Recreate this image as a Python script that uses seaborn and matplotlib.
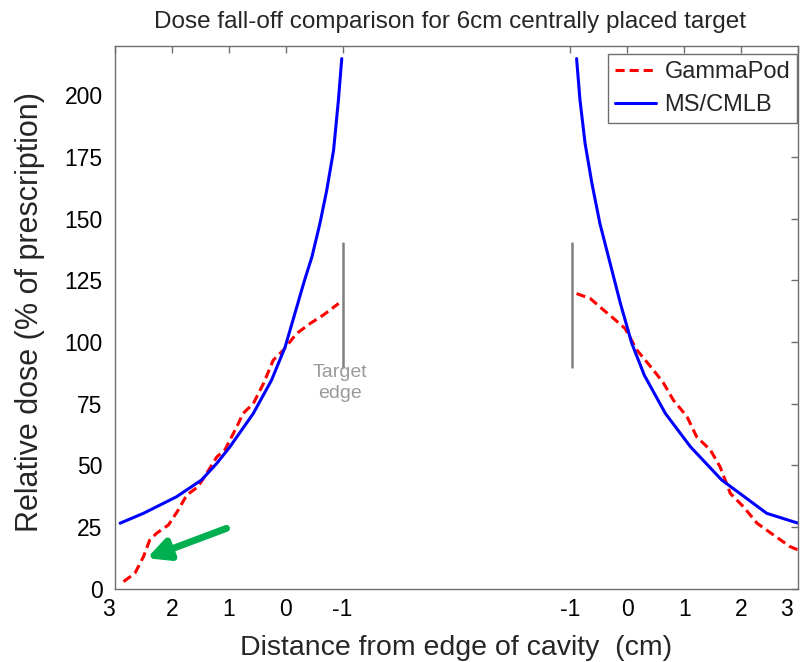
import numpy as np
import pandas as pd
import matplotlib
matplotlib.use("Agg")
import matplotlib.pyplot as plt
import matplotlib.transforms as mtransforms
import seaborn as sns

# values (x: position in cm, cavity centre at 0)
gp_left_x = [-5.85, -5.65, -5.5, -5.39, -5.27, -5.06, -4.89, -4.74, -4.54, -4.39, -4.21,
             -4.07, -3.86, -3.75, -3.57, -3.39, -3.22, -3.04, -2.81, -2.57, -2.34, -2.07]
gp_left_y = [2.8, 6.2, 12.9, 19.7, 22.4, 25.8, 31.8, 37.9, 41.3, 46.7, 53.4,
             56.2, 65.6, 71.0, 75.0, 83.2, 92.6, 96.7, 103.4, 107.5, 110.9, 115.6]
gp_right_x = [2.11, 2.35, 2.55, 2.76, 2.96, 3.17, 3.46, 3.64, 3.81, 4.05, 4.22,
              4.46, 4.63, 4.81, 5.04, 5.28, 5.57, 5.86, 6.07]
gp_right_y = [119.6, 117.6, 113.6, 109.5, 105.5, 96.7, 88.6, 83.2, 76.4, 69.7, 61.5,
              56.2, 49.4, 38.6, 33.2, 26.5, 21.7, 17.0, 15.0]

ms_left_x = [-5.91, -5.5, -4.92, -4.48, -4.21, -3.98, -3.57, -3.25, -3.01, -2.84,
             -2.67, -2.54, -2.40, -2.28, -2.16, -2.075, -2.016]
ms_left_y = [26.5, 30.5, 37.2, 44.0, 50.8, 57.5, 71.0, 84.5, 98.0, 111.5,
             125.0, 134.5, 148.0, 161.5, 177.7, 198.0, 214.9]
ms_right_x = [2.11, 2.17, 2.26, 2.38, 2.52, 2.70, 2.88, 3.08, 3.30, 3.67, 4.11,
              4.66, 5.45, 6.0]
ms_right_y = [214.9, 198.0, 180.4, 164.2, 148.0, 131.8, 115.6, 99.4, 86.5, 71.0, 57.5,
              44.0, 30.5, 26.5]

tick_pos = [-6, -5, -4, -3, -2, 2, 3, 4, 5, 6]
tick_labels = ["3", "2", "1", "0", "-1", "-1", "0", "1", "2", "3"]
edge_x = [-2.0, 2.03]
methods = ["GammaPod", "MS/CMLB"]


def segment(x, y, method, side):
    return pd.DataFrame({"x": x, "dose": y, "method": method, "side": side})


df = pd.concat([
    segment(gp_left_x, gp_left_y, "GammaPod", "L"),
    segment(gp_right_x, gp_right_y, "GammaPod", "R"),
    segment(ms_left_x, ms_left_y, "MS/CMLB", "L"),
    segment(ms_right_x, ms_right_y, "MS/CMLB", "R"),
], ignore_index=True)

sns.set_theme(style="white")
plt.rcParams["font.family"] = ["Liberation Sans", "DejaVu Sans"]
frame = "#6e6e6e"

fig = plt.figure(figsize=(8.02, 6.62), dpi=100)
ax = fig.add_axes([0.1434, 0.111, 0.8516, 0.8195])

sns.lineplot(data=df, x="x", y="dose", hue="method", style="method", units="side",
             estimator=None, sort=False, hue_order=methods, style_order=methods,
             palette={"GammaPod": "#ff0000", "MS/CMLB": "#0000ff"},
             dashes={"GammaPod": (3, 1.6), "MS/CMLB": ""},
             linewidth=2.2, ax=ax)

# target edge markers
for ex in edge_x:
    ax.plot([ex, ex], [90, 140], color="#808080", lw=1.8)
ax.text(-2.05, 91, "Target\nedge", color="#9a9a9a", fontsize=14,
        ha="center", va="top", linespacing=1.3)

# green arrow pointing at the low-dose tail
ax.annotate("", xy=(-5.44, 12.3), xytext=(-4.04, 24.4),
            arrowprops=dict(arrowstyle="-|>", color="#00b050", lw=5,
                            mutation_scale=32, shrinkA=0, shrinkB=0))

ax.set_xlim(-6, 6)
ax.set_ylim(0, 220)
ax.set_xticks(tick_pos)
ax.set_xticklabels(tick_labels)
ax.set_yticks(np.arange(0, 201, 25))
ax.tick_params(axis="both", direction="in", length=5, width=1, color=frame,
               labelsize=16.5, labelcolor="black", top=True, right=True)
ax.tick_params(axis="x", pad=7)
ax.tick_params(axis="y", pad=9)
for s in ax.spines.values():
    s.set_color(frame)
    s.set_linewidth(1)

# end labels sit inside the axis ends, as in the reference
xl = ax.get_xticklabels()
xl[0].set_ha("right")
xl[-1].set_ha("right")
xl[-1].set_transform(xl[-1].get_transform() +
                     mtransforms.ScaledTranslation(-5 / 100, 0, fig.dpi_scale_trans))

ax.set_xlabel("Distance from edge of cavity  (cm)", fontsize=20.5, labelpad=10)
ax.set_ylabel("Relative dose (% of prescription)", fontsize=22)
ax.yaxis.set_label_coords(-0.102, 0.51)
ax.set_title("Dose fall-off comparison for 6cm centrally placed target",
             fontsize=17.5, pad=13, x=0.49)

leg = ax.legend(loc="upper right", bbox_to_anchor=(0.999, 0.985), borderaxespad=0,
                fontsize=17, frameon=True, fancybox=False, framealpha=1,
                handlelength=1.75, handletextpad=0.35, borderpad=0.3,
                labelspacing=0.45)
leg.get_frame().set_edgecolor(frame)
leg.get_frame().set_linewidth(1)

fig.savefig("out.png", dpi=100)
